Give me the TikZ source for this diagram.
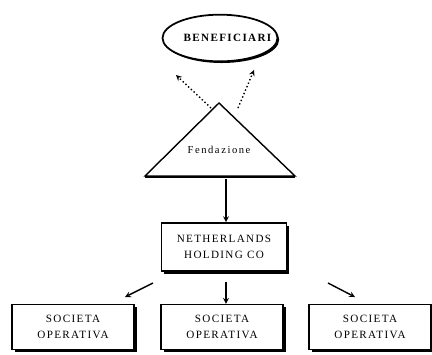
\documentclass[tikz,border=0pt]{standalone}
\usepackage{fontspec}
\setmainfont{Liberation Serif}
\usetikzlibrary{shapes.geometric, arrows, shadows}
\newfontfamily\diafont[LetterSpace=12]{Liberation Serif}
\tikzstyle{blackshadow} = [drop shadow={shadow xshift=0.08cm, shadow yshift=-0.08cm, fill=black, opacity=1}]
\tikzstyle{entity} = [ellipse, draw=black, line width=1.5pt, fill=white, minimum width=3.45cm, minimum height=1.4cm, font=\diafont\bfseries\fontsize{9.5}{10}\selectfont, drop shadow={shadow xshift=0.05cm, shadow yshift=-0.05cm, fill=black, opacity=1}]
\tikzstyle{company} = [rectangle, draw=black, very thick, fill=white, minimum width=3.65cm, minimum height=1.35cm, text centered, align=center, font=\diafont\fontsize{9.5}{13.5}\selectfont, blackshadow]
\tikzstyle{arrow} = [very thick,->,>=stealth]
\tikzstyle{dotarrow} = [very thick,dotted,->,>=stealth]

\begin{document}
\begin{tikzpicture}[x=0.03cm, y=-0.03cm]
\useasboundingbox (0,0) rectangle (432,354);
\clip (0,0) rectangle (432,354);

\node (benef) [entity] at (220,38) {\makebox[0pt]{\hspace*{0.45cm}BENEFICIARI}};

\coordinate (apex) at (219,103);
\coordinate (baseleft) at (145,176);
\coordinate (baseright) at (295,176);
\draw [very thick, fill=white] (apex) -- (baseleft) -- (baseright) -- cycle;
\draw [line width=2.2pt] ([yshift=-0.03cm]baseleft) -- ([yshift=-0.03cm]baseright);
\node (fond) at (219,150) {\diafont\addfontfeature{LetterSpace=15}\fontsize{9}{10}\selectfont Fendazione};

\coordinate (dotleft) at (211,108);
\coordinate (dotlefttip) at (176,75);
\coordinate (dotright) at (238,108);
\coordinate (dotrighttip) at (254,70);
\coordinate (fondbase) at (226,179);

\node (holding) [company, minimum width=3.75cm, minimum height=1.45cm] at (224,247) {NETHERLANDS\\HOLDING CO};

\node (opleft) [company] at (73,327) {SOCIETA\\OPERATIVA};
\node (opmid) [company] at (222,327) {SOCIETA\\OPERATIVA};
\node (opright) [company] at (370,327) {SOCIETA\\OPERATIVA};

\coordinate (splitleft) at (153,283);
\coordinate (splitlefttip) at (125,297);
\coordinate (splitright) at (328,283);
\coordinate (splitrighttip) at (355,297);

\draw [dotarrow] (dotleft) -- (dotlefttip);
\draw [dotarrow] (dotright) -- (dotrighttip);
\draw [arrow] (fondbase) -- (fondbase |- holding.north);
\draw [arrow] (splitleft) -- (splitlefttip);
\draw [arrow, shorten <=0.3cm] (holding.south -| fondbase) -- (opmid.north -| fondbase);
\draw [arrow] (splitright) -- (splitrighttip);

\end{tikzpicture}
\end{document}
